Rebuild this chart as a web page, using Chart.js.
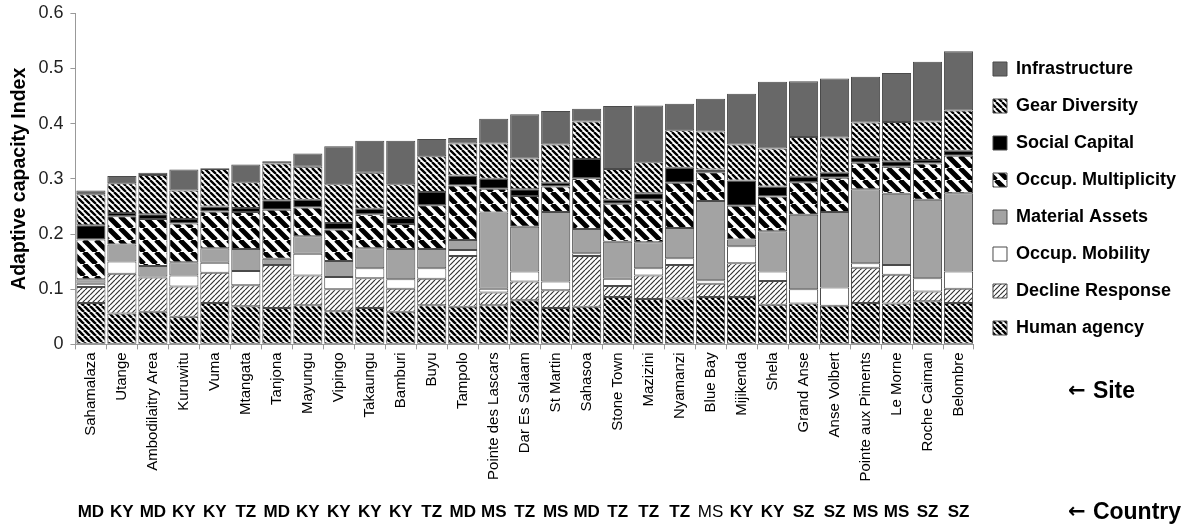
<!DOCTYPE html>
<html lang="en">
<head>
<meta charset="UTF-8">
<title>Adaptive capacity Index by site</title>
<script src="https://cdn.jsdelivr.net/npm/chart.js"></script>
<style>
  html, body { margin: 0; padding: 0; background: #fff; }
  #wrap { width: 1190px; height: 528px; }
</style>
</head>
<body>
<div id="wrap"><canvas id="aci" width="1190" height="528"></canvas></div>
<script>
// sites, left to right, with their country code
const sites = ['Sahamalaza', 'Utange', 'Ambodilaitry Area', 'Kuruwitu', 'Vuma', 'Mtangata', 'Tanjona',
  'Mayungu', 'Vipingo', 'Takaungu', 'Bamburi', 'Buyu', 'Tampolo', 'Pointe des Lascars', 'Dar Es Salaam',
  'St Martin', 'Sahasoa', 'Stone Town', 'Mazizini', 'Nyamanzi', 'Blue Bay', 'Mijikenda', 'Shela',
  'Grand Anse', 'Anse Volbert', 'Pointe aux Piments', 'Le Morne', 'Roche Caiman', 'Belombre'];
const countries = ['MD', 'KY', 'MD', 'KY', 'KY', 'TZ', 'MD', 'KY', 'KY', 'KY', 'KY', 'TZ', 'MD', 'MS', 'TZ',
  'MS', 'MD', 'TZ', 'TZ', 'TZ', 'MS', 'KY', 'KY', 'SZ', 'SZ', 'MS', 'MS', 'SZ', 'SZ'];

// components, bottom of the stack first
const humanAgency = [0.075, 0.056, 0.059, 0.050, 0.075, 0.069, 0.066, 0.071, 0.060, 0.066, 0.059, 0.071, 0.068, 0.071, 0.080,
  0.066, 0.068, 0.086, 0.082, 0.083, 0.086, 0.086, 0.072, 0.074, 0.070, 0.075, 0.074, 0.078, 0.075];
const declineResponse = [0.029, 0.072, 0.062, 0.055, 0.055, 0.038, 0.078, 0.054, 0.040, 0.054, 0.042, 0.048, 0.092, 0.023, 0.034,
  0.032, 0.092, 0.020, 0.043, 0.061, 0.024, 0.061, 0.043, 0, 0, 0.064, 0.052, 0.018, 0.026];
const occupMobility = [0.006, 0.022, 0.002, 0.020, 0.018, 0.026, 0, 0.039, 0.022, 0.018, 0.017, 0.019, 0.011, 0.007, 0.018,
  0.016, 0.005, 0.013, 0.013, 0.012, 0.006, 0.031, 0.017, 0.026, 0.033, 0.008, 0.018, 0.024, 0.031];
const materialAssets = [0.008, 0.031, 0.019, 0.024, 0.026, 0.040, 0.011, 0.032, 0.029, 0.036, 0.055, 0.035, 0.018, 0.138, 0.081,
  0.126, 0.044, 0.067, 0.047, 0.055, 0.144, 0.012, 0.073, 0.135, 0.137, 0.134, 0.129, 0.142, 0.142];
const occupMultiplicity = [0.072, 0.051, 0.085, 0.070, 0.067, 0.067, 0.089, 0.052, 0.057, 0.062, 0.045, 0.079, 0.099, 0.043, 0.056,
  0.046, 0.092, 0.069, 0.077, 0.082, 0.052, 0.061, 0.063, 0.059, 0.062, 0.048, 0.049, 0.066, 0.068];
const socialCapital = [0.026, 0.006, 0.009, 0.008, 0.009, 0.007, 0.017, 0.014, 0.012, 0.010, 0.011, 0.024, 0.018, 0.018, 0.012,
  0.007, 0.035, 0.007, 0.012, 0.027, 0.005, 0.046, 0.018, 0.010, 0.009, 0.010, 0.010, 0.006, 0.009];
const gearDiversity = [0.056, 0.054, 0.071, 0.052, 0.068, 0.047, 0.067, 0.060, 0.070, 0.065, 0.061, 0.065, 0.058, 0.064, 0.056,
  0.069, 0.068, 0.056, 0.056, 0.068, 0.069, 0.065, 0.069, 0.072, 0.064, 0.063, 0.071, 0.070, 0.073];
const infrastructure = [0.007, 0.013, 0.004, 0.038, 0.001, 0.032, 0.004, 0.024, 0.069, 0.058, 0.079, 0.031, 0.010, 0.045, 0.080,
  0.061, 0.023, 0.114, 0.103, 0.048, 0.059, 0.092, 0.121, 0.101, 0.107, 0.083, 0.089, 0.108, 0.107];

const canvas = document.getElementById('aci');
const ctx = canvas.getContext('2d');
const FONT = "'Liberation Sans', Arial, sans-serif";
Chart.defaults.font.family = FONT;
Chart.defaults.color = '#000';

// diagonal hatch fill, dir '\\' or '/'
function hatch(size, lw, color, dir) {
  const tile = document.createElement('canvas');
  tile.width = tile.height = size;
  const g = tile.getContext('2d');
  g.fillStyle = '#fff';
  g.fillRect(0, 0, size, size);
  g.strokeStyle = color;
  g.lineWidth = lw;
  g.beginPath();
  for (let k = -1; k <= 1; k++) {
    if (dir === '\\') { g.moveTo(k * size, 0); g.lineTo(k * size + size, size); }
    else { g.moveTo(k * size, size); g.lineTo(k * size + size, 0); }
  }
  g.stroke();
  return ctx.createPattern(tile, 'repeat');
}

const series = [
  { label: 'Human agency', data: humanAgency, fill: hatch(6, 2.6, '#000', '\\') },
  { label: 'Decline Response', data: declineResponse, fill: hatch(5, 1.2, '#333', '/') },
  { label: 'Occup. Mobility', data: occupMobility, fill: '#ffffff' },
  { label: 'Material Assets', data: materialAssets, fill: '#a3a3a3' },
  { label: 'Occup. Multiplicity', data: occupMultiplicity, fill: hatch(12, 5, '#000', '\\') },
  { label: 'Social Capital', data: socialCapital, fill: '#000000' },
  { label: 'Gear Diversity', data: gearDiversity, fill: hatch(6, 2.3, '#000', '\\') },
  { label: 'Infrastructure', data: infrastructure, fill: '#686868' }
];

// "← Site" / "← Country" captions right of the two label rows
const sideLabels = {
  id: 'sideLabels',
  afterDraw(chart) {
    const c = chart.ctx, sx = chart.scales.x, cx = chart.scales.x2;
    const left = chart.legend.left + 94;
    const rows = [['Site', sx.top + 47], ['Country', (cx.top + cx.bottom) / 2]];
    c.save();
    c.fillStyle = '#000';
    c.textBaseline = 'middle';
    rows.forEach(([txt, y]) => {
      c.font = 'bold 21px "DejaVu Sans"';
      c.fillText('\u2190', left, y);
      const w = c.measureText('\u2190 ').width;
      c.font = 'bold 23px ' + FONT;
      c.fillText(txt, left + w, y);
    });
    c.restore();
  }
};

new Chart(ctx, {
  type: 'bar',
  data: {
    labels: sites,
    datasets: series.map(s => ({
      label: s.label,
      data: s.data,
      backgroundColor: s.fill,
      borderColor: '#4a4a4a',
      borderWidth: 1,
      borderSkipped: false,
      barPercentage: 0.94,
      categoryPercentage: 1
    }))
  },
  options: {
    responsive: false,
    animation: false,
    devicePixelRatio: 1,
    layout: { padding: { left: 0, right: 4, top: 13, bottom: -13 } },
    plugins: {
      tooltip: { enabled: false },
      legend: {
        position: 'right',
        align: 'start',
        reverse: true,
        title: { display: true, text: ' ', font: { size: 10 }, padding: { top: 16, bottom: 0 } },
        labels: {
          boxWidth: 14,
          boxHeight: 14,
          padding: 19,
          color: '#000',
          font: { size: 18, weight: 'bold' }
        }
      }
    },
    scales: {
      x: {
        stacked: true,
        grid: { drawOnChartArea: false, drawTicks: true, tickLength: 5, color: '#999', offset: true },
        border: { color: '#999' },
        ticks: { autoSkip: false, minRotation: 90, maxRotation: 90, padding: 3, color: '#000', font: { size: 15 } }
      },
      x2: {
        type: 'category',
        labels: countries,
        position: 'bottom',
        offset: true,
        grid: { display: false, drawTicks: false },
        border: { display: false },
        ticks: {
          autoSkip: false, maxRotation: 0, padding: 18, color: '#000',
          font: c => ({ size: 17, weight: c.index === sites.indexOf('Blue Bay') ? 'normal' : 'bold' })
        }
      },
      y: {
        stacked: true,
        min: 0,
        max: 0.6,
        grid: { drawOnChartArea: false, drawTicks: true, tickLength: 5, color: '#999' },
        border: { color: '#999' },
        ticks: { stepSize: 0.1, padding: 7, color: '#222', font: { size: 18, lineHeight: 0.7 } },
        title: {
          display: true, text: 'Adaptive capacity Index', color: '#000',
          font: { size: 19.5, weight: 'bold' }, padding: { top: 8, bottom: 0 }
        }
      }
    }
  },
  plugins: [sideLabels]
});
</script>
</body>
</html>
